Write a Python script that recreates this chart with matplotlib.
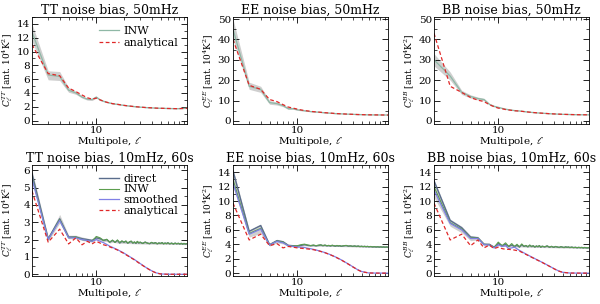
import matplotlib
matplotlib.use('Agg')
import matplotlib.pyplot as plt
from matplotlib.ticker import FixedLocator, NullFormatter, MultipleLocator

plt.rcParams['font.family'] = 'DejaVu Serif'
plt.rcParams['mathtext.fontset'] = 'dejavuserif'

# multipole grids
ell_a = [2, 3, 4, 5, 6, 7, 8, 9, 10, 11, 12, 13, 14, 15, 17, 20, 23, 26, 30, 35, 40, 45, 50, 60, 75, 97]
ell_n = [2, 3, 4, 5, 6, 7, 8, 9, 10, 11, 12, 13, 14, 15, 16, 17, 18, 19, 20, 21, 22, 23, 24, 25, 26, 27, 28, 29, 30,
         32, 34, 36, 38, 40, 42, 44, 46, 48, 50, 52, 54, 56, 58, 60,
         63, 66, 69, 72, 75, 78, 81, 84, 87, 90, 93, 96]

# --- top row: 50mHz ---
tt50_inw = [12.8, 6.6, 6.4, 4.4, 4.0, 3.4, 3.1, 3.05, 3.4, 3.0, 2.8, 2.65, 2.55, 2.45, 2.35, 2.2, 2.1, 2.02, 1.95, 1.88, 1.84, 1.8, 1.78, 1.75, 1.72, 1.78]
tt50_lo = [11.5, 5.9, 5.8, 4.1, 3.8, 3.25, 2.95, 2.9, 3.25, 2.9, 2.72, 2.58, 2.48, 2.38, 2.29, 2.15, 2.05, 1.98, 1.91, 1.85, 1.81, 1.77, 1.75, 1.72, 1.69, 1.74]
tt50_hi = [14.0, 7.2, 7.1, 4.8, 4.25, 3.6, 3.25, 3.2, 3.55, 3.1, 2.88, 2.72, 2.62, 2.52, 2.41, 2.25, 2.15, 2.06, 1.99, 1.91, 1.87, 1.83, 1.81, 1.78, 1.75, 1.82]
tt50_ana = [11.0, 6.8, 6.5, 4.7, 4.2, 3.7, 3.3, 3.1, 3.25, 3.0, 2.8, 2.65, 2.55, 2.45, 2.35, 2.2, 2.1, 2.02, 1.95, 1.88, 1.84, 1.8, 1.78, 1.75, 1.72, 1.76]

ee50_inw = [45, 17, 15.5, 9.0, 8.5, 7.5, 6.0, 6.0, 5.5, 5.2, 5.0, 4.8, 4.6, 4.5, 4.3, 4.0, 3.8, 3.6, 3.5, 3.35, 3.25, 3.15, 3.1, 3.0, 2.95, 2.9]
ee50_lo = [40, 15.5, 14, 8.2, 7.8, 7.0, 5.6, 5.7, 5.2, 5.0, 4.8, 4.65, 4.45, 4.35, 4.2, 3.9, 3.7, 3.52, 3.42, 3.28, 3.18, 3.08, 3.04, 2.94, 2.89, 2.84]
ee50_hi = [50, 19, 17, 10, 9.3, 8.1, 6.5, 6.4, 5.8, 5.4, 5.2, 4.95, 4.75, 4.65, 4.4, 4.1, 3.9, 3.68, 3.58, 3.42, 3.32, 3.22, 3.16, 3.06, 3.01, 2.96]
ee50_ana = [40, 17.5, 15.5, 10.5, 9.5, 8.0, 6.8, 6.3, 5.8, 5.4, 5.1, 4.9, 4.7, 4.55, 4.35, 4.05, 3.85, 3.65, 3.5, 3.35, 3.25, 3.15, 3.1, 3.0, 2.95, 2.9]

bb50_inw = [30, 22, 14, 12, 11, 10.5, 8.2, 7.2, 6.7, 6.2, 5.8, 5.5, 5.3, 5.1, 4.9, 4.5, 4.2, 4.0, 3.8, 3.6, 3.45, 3.35, 3.25, 3.15, 3.05, 3.0]
bb50_lo = [27, 20, 13, 11.2, 10.3, 9.9, 7.8, 6.9, 6.4, 6.0, 5.6, 5.35, 5.15, 4.95, 4.78, 4.4, 4.1, 3.92, 3.72, 3.53, 3.38, 3.29, 3.19, 3.1, 3.0, 2.95]
bb50_hi = [33, 24, 15, 12.8, 11.7, 11.1, 8.6, 7.5, 7.0, 6.4, 6.0, 5.65, 5.45, 5.25, 5.02, 4.6, 4.3, 4.08, 3.88, 3.67, 3.52, 3.41, 3.31, 3.2, 3.1, 3.05]
bb50_ana = [43, 17, 14, 11.5, 10.2, 9.5, 8.0, 7.0, 6.3, 6.0, 5.6, 5.4, 5.2, 5.0, 4.85, 4.5, 4.2, 4.0, 3.8, 3.6, 3.45, 3.35, 3.25, 3.15, 3.05, 3.0]

# --- bottom row: 10mHz, 60s ---
tt10_dir = [5.8, 2.05, 3.2, 2.15, 2.15, 2.05, 2.0, 1.95, 2.1, 2.05, 1.95, 2.0, 1.85, 1.95, 1.85, 1.95, 1.8, 1.9, 1.85, 1.9, 1.8, 1.85, 1.9, 1.8, 1.85, 1.78, 1.88, 1.8, 1.84,
            1.78, 1.85, 1.8, 1.76, 1.83, 1.78, 1.82, 1.76, 1.8, 1.78, 1.82, 1.76, 1.8, 1.77, 1.81,
            1.76, 1.79, 1.75, 1.79, 1.76, 1.78, 1.75, 1.78, 1.74, 1.77, 1.75, 1.76]
tt10_inw = [5.6, 2.0, 3.15, 2.1, 2.15, 2.0, 1.95, 1.9, 2.18, 2.1, 1.95, 2.02, 1.85, 1.97, 1.83, 1.98, 1.82, 1.93, 1.84, 1.92, 1.79, 1.88, 1.91, 1.8, 1.87, 1.79, 1.9, 1.81, 1.86,
            1.77, 1.86, 1.79, 1.77, 1.84, 1.78, 1.83, 1.75, 1.81, 1.77, 1.83, 1.75, 1.8, 1.76, 1.82,
            1.75, 1.8, 1.74, 1.8, 1.75, 1.79, 1.74, 1.78, 1.73, 1.78, 1.74, 1.76]
tt10_smo = [5.5, 2.0, 3.1, 2.1, 2.1, 2.0, 1.95, 1.9, 2.0, 1.9, 1.82, 1.72, 1.62, 1.55, 1.42, 1.22, 1.02, 0.85, 0.62, 0.38, 0.2, 0.08, 0.02, 0.0, 0.0, 0.0]
tt10_ana = [4.8, 1.85, 2.6, 1.75, 2.1, 1.7, 1.9, 1.75, 1.9, 1.8, 1.7, 1.65, 1.58, 1.52, 1.4, 1.2, 1.0, 0.83, 0.6, 0.37, 0.19, 0.07, 0.02, 0.0, 0.0, 0.0]
tt10_lo = [5.4, 1.9, 2.95, 2.05, 2.05, 1.95, 1.9, 1.85, 2.0, 1.95, 1.88, 1.9, 1.8, 1.85, 1.8, 1.78, 1.77, 1.76, 1.75, 1.74, 1.74, 1.73, 1.73, 1.72, 1.72, 1.71]
tt10_hi = [6.0, 2.15, 3.45, 2.25, 2.25, 2.15, 2.08, 2.03, 2.2, 2.12, 2.02, 2.05, 1.93, 1.98, 1.92, 1.9, 1.88, 1.87, 1.86, 1.85, 1.84, 1.83, 1.83, 1.82, 1.81, 1.8]

ee10_dir = [14.2, 5.8, 6.6, 3.95, 4.5, 4.35, 3.85, 3.8, 3.75, 3.85, 3.95, 3.85, 3.8, 3.85, 3.78, 3.84, 3.9, 3.8, 3.86, 3.78, 3.82, 3.76, 3.84, 3.79, 3.74, 3.81, 3.76, 3.8, 3.72,
            3.78, 3.82, 3.74, 3.77, 3.71, 3.76, 3.7, 3.75, 3.68, 3.72, 3.67, 3.71, 3.66, 3.7, 3.65,
            3.68, 3.63, 3.66, 3.62, 3.65, 3.61, 3.64, 3.6, 3.63, 3.59, 3.62, 3.6]
ee10_inw = [13.0, 5.5, 6.2, 3.9, 4.45, 4.3, 3.8, 3.75, 3.8, 3.95, 4.02, 3.9, 3.82, 3.9, 3.8, 3.88, 3.93, 3.82, 3.9, 3.8, 3.85, 3.78, 3.87, 3.8, 3.76, 3.84, 3.77, 3.82, 3.74,
            3.8, 3.84, 3.75, 3.79, 3.72, 3.78, 3.71, 3.76, 3.69, 3.73, 3.68, 3.72, 3.67, 3.71, 3.66,
            3.69, 3.64, 3.67, 3.63, 3.66, 3.62, 3.65, 3.61, 3.64, 3.6, 3.63, 3.61]
ee10_smo = [12.5, 5.4, 6.1, 3.9, 4.4, 4.2, 3.8, 3.7, 3.6, 3.6, 3.55, 3.45, 3.38, 3.3, 3.12, 2.85, 2.55, 2.25, 1.85, 1.35, 0.9, 0.5, 0.22, 0.02, 0.0, 0.0]
ee10_ana = [9.7, 4.6, 5.4, 3.8, 4.1, 3.5, 3.7, 3.6, 3.5, 3.45, 3.4, 3.35, 3.3, 3.25, 3.1, 2.83, 2.53, 2.23, 1.83, 1.33, 0.88, 0.48, 0.2, 0.02, 0.0, 0.0]
ee10_lo = [12.0, 5.0, 5.5, 3.75, 4.2, 4.05, 3.7, 3.65, 3.65, 3.75, 3.8, 3.75, 3.72, 3.74, 3.72, 3.74, 3.72, 3.7, 3.68, 3.66, 3.64, 3.62, 3.61, 3.59, 3.57, 3.55]
ee10_hi = [14.5, 6.0, 6.8, 4.05, 4.7, 4.5, 3.95, 3.9, 3.9, 4.0, 4.05, 3.95, 3.9, 3.92, 3.88, 3.9, 3.87, 3.84, 3.8, 3.78, 3.76, 3.74, 3.73, 3.7, 3.67, 3.65]

bb10_dir = [12.8, 7.3, 6.3, 5.0, 4.9, 4.0, 4.0, 3.6, 4.1, 3.8, 4.0, 3.7, 3.9, 3.7, 3.85, 3.6, 3.95, 3.7, 3.8, 3.65, 3.85, 3.68, 3.78, 3.62, 3.75, 3.66, 3.8, 3.6, 3.72,
            3.64, 3.76, 3.6, 3.7, 3.58, 3.68, 3.62, 3.56, 3.66, 3.6, 3.55, 3.64, 3.58, 3.62, 3.55,
            3.6, 3.54, 3.58, 3.52, 3.57, 3.53, 3.56, 3.5, 3.55, 3.52, 3.5, 3.52]
bb10_inw = [12.0, 7.0, 6.1, 4.9, 4.85, 4.0, 3.95, 3.55, 4.3, 3.8, 4.2, 3.7, 4.1, 3.7, 4.0, 3.65, 4.05, 3.72, 3.85, 3.66, 3.9, 3.7, 3.8, 3.63, 3.78, 3.67, 3.82, 3.61, 3.74,
            3.65, 3.78, 3.6, 3.71, 3.58, 3.7, 3.62, 3.57, 3.67, 3.6, 3.56, 3.65, 3.58, 3.62, 3.55,
            3.61, 3.54, 3.58, 3.52, 3.57, 3.53, 3.56, 3.5, 3.55, 3.52, 3.5, 3.53]
bb10_smo = [11.5, 6.9, 6.0, 4.8, 4.8, 3.95, 3.9, 3.5, 3.9, 3.7, 3.8, 3.4, 3.5, 3.6, 3.15, 2.65, 2.25, 1.9, 1.5, 1.05, 0.65, 0.32, 0.12, 0.01, 0.0, 0.0]
bb10_ana = [9.7, 4.6, 5.4, 3.8, 4.6, 3.5, 3.9, 3.4, 3.6, 3.4, 3.3, 3.3, 3.25, 3.2, 3.05, 2.6, 2.2, 1.87, 1.48, 1.03, 0.63, 0.3, 0.11, 0.01, 0.0, 0.0]
bb10_lo = [10.5, 6.5, 5.6, 4.5, 4.6, 3.8, 3.8, 3.45, 3.85, 3.65, 3.75, 3.6, 3.7, 3.6, 3.65, 3.6, 3.58, 3.57, 3.55, 3.53, 3.52, 3.5, 3.49, 3.47, 3.45, 3.43]
bb10_hi = [13.0, 7.5, 6.5, 5.2, 5.1, 4.15, 4.1, 3.7, 4.3, 3.95, 4.1, 3.85, 4.0, 3.85, 3.9, 3.8, 3.77, 3.75, 3.72, 3.7, 3.68, 3.66, 3.64, 3.62, 3.6, 3.58]

band_col = '#cfcfcf'
col_inw_top = '#8fb8a6'
col_dir = '#5a6d8c'
col_inw = '#5c9e4e'
col_smo = '#8080e6'
col_ana = '#e02828'

fs = 7.5
W = 600.0
H = 304.0


def make_axes(fig, left_px, top_px, bottom_px):
    ax = fig.add_axes([left_px / W, 1 - bottom_px / H, 155 / W, (bottom_px - top_px) / H])
    ax.set_xscale('log')
    ax.set_xlim(2, 97)
    ax.xaxis.set_major_locator(FixedLocator([10]))
    ax.xaxis.set_minor_locator(FixedLocator([3, 4, 5, 6, 7, 8, 9, 20, 30, 40, 50, 60, 70, 80, 90]))
    ax.xaxis.set_minor_formatter(NullFormatter())
    ax.set_xticklabels(['10'])
    ax.tick_params(which='both', direction='in', top=True, right=True, labelsize=fs, pad=1.5)
    ax.tick_params(which='major', length=4, width=0.6)
    ax.tick_params(which='minor', length=2, width=0.5)
    for s in ax.spines.values():
        s.set_linewidth(0.6)
    ax.set_xlabel(r'Multipole, $\ell$', fontsize=fs, labelpad=0)
    return ax


fig = plt.figure(figsize=(6, 3.04), dpi=100)
lefts = [32, 233, 434]
ylab_x = -0.108

top_data = [
    ('TT noise bias, 50mHz', 'TT', tt50_inw, tt50_lo, tt50_hi, tt50_ana, (-0.5, 15), 2),
    ('EE noise bias, 50mHz', 'EE', ee50_inw, ee50_lo, ee50_hi, ee50_ana, (-1.5, 51), 10),
    ('BB noise bias, 50mHz', 'BB', bb50_inw, bb50_lo, bb50_hi, bb50_ana, (-1.5, 51), 10),
]
for i, (title, spec, inw, lo, hi, ana, ylim, step) in enumerate(top_data):
    ax = make_axes(fig, lefts[i], 17, 124)
    ax.fill_between(ell_a, lo, hi, color=band_col, lw=0)
    ax.plot(ell_a, inw, color=col_inw_top, lw=0.9, label='INW')
    ax.plot(ell_a, ana, color=col_ana, lw=0.9, ls=(0, (3, 2)), label='analytical')
    ax.set_ylim(*ylim)
    ax.yaxis.set_major_locator(MultipleLocator(step))
    ax.yaxis.set_minor_locator(MultipleLocator(step / 2))
    ax.set_title(title, fontsize=9, pad=2.5)
    ax.set_ylabel(r'$C_\ell^{%s}$ [ant. 10$^{4}$K$^2$]' % spec, fontsize=6.4)
    ax.yaxis.set_label_coords(ylab_x, 0.5)
    if i == 0:
        ax.legend(loc='upper right', frameon=False, fontsize=fs + 0.5, handlelength=1.8,
                  handletextpad=0.4, labelspacing=0.2, borderaxespad=0.4)

bot_data = [
    ('TT noise bias, 10mHz, 60s', 'TT', tt10_dir, tt10_inw, tt10_smo, tt10_ana, tt10_lo, tt10_hi, (-0.1, 6.3), 1),
    ('EE noise bias, 10mHz, 60s', 'EE', ee10_dir, ee10_inw, ee10_smo, ee10_ana, ee10_lo, ee10_hi, (-0.4, 15), 2),
    ('BB noise bias, 10mHz, 60s', 'BB', bb10_dir, bb10_inw, bb10_smo, bb10_ana, bb10_lo, bb10_hi, (-0.4, 15), 2),
]
for i, (title, spec, dr, inw, smo, ana, lo, hi, ylim, step) in enumerate(bot_data):
    ax = make_axes(fig, lefts[i], 165, 276)
    ax.fill_between(ell_a, lo, hi, color=band_col, lw=0)
    ax.plot(ell_n, dr, color=col_dir, lw=1.0, label='direct')
    ax.plot(ell_n, inw, color=col_inw, lw=0.8, label='INW')
    ax.plot(ell_a, smo, color=col_smo, lw=0.9, label='smoothed')
    ax.plot(ell_a, ana, color=col_ana, lw=0.9, ls=(0, (3, 2)), label='analytical')
    ax.set_ylim(*ylim)
    ax.yaxis.set_major_locator(MultipleLocator(step))
    ax.yaxis.set_minor_locator(MultipleLocator(step / 2))
    ax.set_title(title, fontsize=9, pad=2.5)
    ax.set_ylabel(r'$C_\ell^{%s}$ [ant. 10$^{4}$K$^2$]' % spec, fontsize=6.4)
    ax.yaxis.set_label_coords(ylab_x, 0.5)
    if i == 0:
        ax.legend(loc='upper right', frameon=False, fontsize=fs + 0.5, handlelength=1.8,
                  handletextpad=0.4, labelspacing=0.05, borderaxespad=0.4)

fig.savefig('out.png', dpi=100)
